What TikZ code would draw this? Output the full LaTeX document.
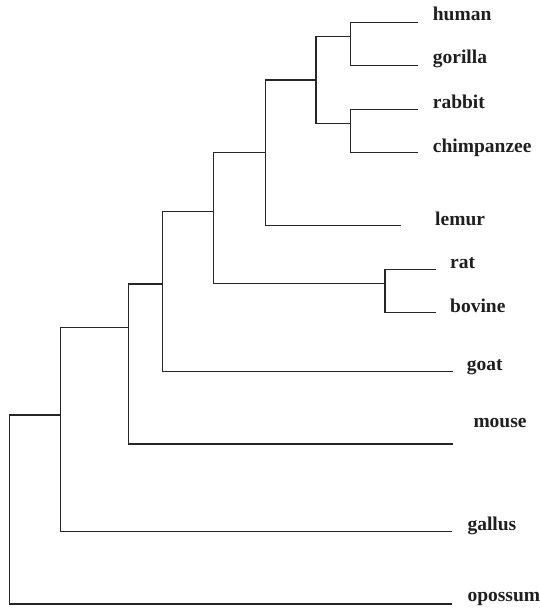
\documentclass[tikz,border=0pt]{standalone}
\usepackage{fontspec}
\setmainfont{Liberation Serif}
\begin{document}
\begin{tikzpicture}[x=1pt,y=-1pt,
  branch/.style={draw=black!85,line width=1.3pt,line join=miter},
  lab/.style={anchor=base west,inner sep=0pt,text=black!88,
    font=\fontsize{19.5}{22}\selectfont\bfseries}]
\useasboundingbox (0,0) rectangle (540,608);

% leaf tips
\coordinate (hum) at (418,22.7);
\coordinate (gor) at (418,65.7);
\coordinate (rab) at (418,109.3);
\coordinate (chi) at (418,152.7);
\coordinate (lem) at (400.7,225.7);
\coordinate (rat) at (436,269.3);
\coordinate (bov) at (436,312.7);
\coordinate (goa) at (452.5,371.7);
\coordinate (mou) at (452.5,444);
\coordinate (gal) at (452,531.7);
\coordinate (opo) at (452,604);

% leaf labels
\node[lab] (humL) at (432.7,20.5) {human};
\node[lab] (gorL) at (432.7,63.5) {gorilla};
\node[lab] (rabL) at (432.7,108.3) {rabbit};
\node[lab] (chiL) at (432.7,152) {chimpanzee};
\node[lab] (lemL) at (435,225.2) {lemur};
\node[lab] (ratL) at (450,268.5) {rat};
\node[lab] (bovL) at (450,312.2) {bovine};
\node[lab] (goaL) at (466.7,370.7) {goat};
\node[lab] (mouL) at (473.3,427.3) {mouse};
\node[lab] (galL) at (467.3,530.5) {gallus};
\node[lab] (opoL) at (467.3,601.5) {opossum};

% internal nodes
\coordinate (A) at (350.7,36.7);
\coordinate (B) at (350.7,123.3);
\coordinate (C) at (316,80);
\coordinate (D) at (265.3,152.8);
\coordinate (F) at (385,283.3);
\coordinate (E) at (213.3,211.5);
\coordinate (H) at (162.7,284);
\coordinate (G) at (128.3,327.7);
\coordinate (I) at (60.7,415);
\coordinate (R) at (9.3,509);

% branches
\draw[branch] (A) |- (hum);
\draw[branch] (A) |- (gor);
\draw[branch] (B) |- (rab);
\draw[branch] (B) |- (chi);
\draw[branch] (C) |- (A);
\draw[branch] (C) |- (B);
\draw[branch] (D) |- (C);
\draw[branch] (D) |- (lem);
\draw[branch] (F) |- (rat);
\draw[branch] (F) |- (bov);
\draw[branch] (E) |- (D);
\draw[branch] (E) |- (F);
\draw[branch] (H) |- (E);
\draw[branch] (H) |- (goa);
\draw[branch] (G) |- (H);
\draw[branch] (G) |- (mou);
\draw[branch] (I) |- (G);
\draw[branch] (I) |- (gal);
\draw[branch] (R) |- (I);
\draw[branch] (R) |- (opo);
\end{tikzpicture}
\end{document}
